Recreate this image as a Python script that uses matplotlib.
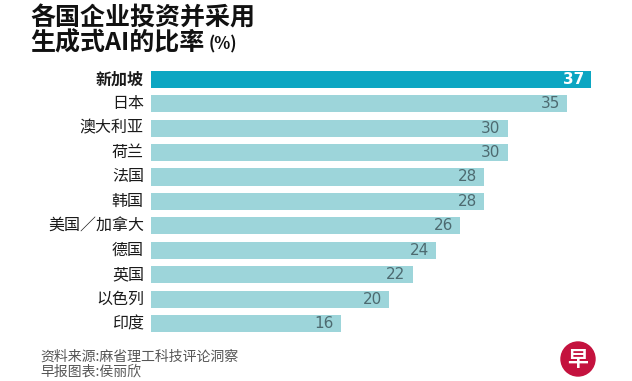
import matplotlib.pyplot as plt
from matplotlib.patches import Ellipse

plt.rcParams['font.family'] = ['Noto Sans CJK SC', 'DejaVu Sans']

countries = ['新加坡', '日本', '澳大利亚', '荷兰', '法国', '韩国',
             '美国／加拿大', '德国', '英国', '以色列', '印度']
values = [37, 35, 30, 30, 28, 28, 26, 24, 22, 20, 16]

W, H = 632, 381
fig = plt.figure(figsize=(W / 100, H / 100), dpi=100)

# axes placed in pixel terms: bars start at x=151, 37 ends at x=591
px_per_unit = 440 / 37
ax = fig.add_axes([151 / W, (H - 335.7) / H, (W - 151) / W, 268.6 / H])
ax.set_xlim(0, (W - 151) / px_per_unit)
ax.set_ylim(len(values) - 0.5, -0.5)
ax.axis('off')

colors = ['#0ca6c2'] + ['#9dd5da'] * (len(values) - 1)
ypos = list(range(len(values)))
ax.barh(ypos, values, height=0.7, color=colors)

for i, (name, v) in enumerate(zip(countries, values)):
    bold = i == 0
    ax.text(-0.6, i, name, ha='right', va='center', fontsize=11.5,
            color='#1a1a1a', fontweight='bold' if bold else 'normal')
    ax.text(v - 0.6, i, str(v), ha='right', va='center', fontsize=11,
            fontfamily='DejaVu Sans',
            color='white' if bold else '#4d6a70',
            fontweight='bold' if bold else 'normal')


def ftext(x, y, s, **kw):
    return fig.text(x / W, 1 - y / H, s, **kw)


ftext(30, 18, '各国企业投资并采用', fontsize=18, fontweight='heavy',
      va='center', color='#111111')
t2 = ftext(30, 43, '生成式AI的比率', fontsize=18, fontweight='heavy',
           va='center', color='#111111')
fig.text(0, 0, '(%)', fontsize=12, fontweight='bold', color='#111111',
         ha='left', va='baseline',
         transform=t2.get_transform())
# place "(%)" right after the second title line
fig.canvas.draw()
bb = t2.get_window_extent()
fig.texts[-1].set_position(((bb.x1 + 4) / W, (bb.y0 + 6) / H))

ftext(40, 357, '资料来源:麻省理工科技评论洞察', fontsize=10,
      va='center', color='#555555')
ftext(40, 372, '早报图表:侯丽欣', fontsize=10, va='center', color='#555555')

# logo
logo = Ellipse((578 / W, 1 - 359 / H), 34 / W, 34 / H,
               transform=fig.transFigure, color='#c4123e')
fig.patches.append(logo)
ftext(578, 359, '早', fontsize=15, fontweight='bold', ha='center',
      va='center', color='white')

fig.savefig('out.png', dpi=100)
